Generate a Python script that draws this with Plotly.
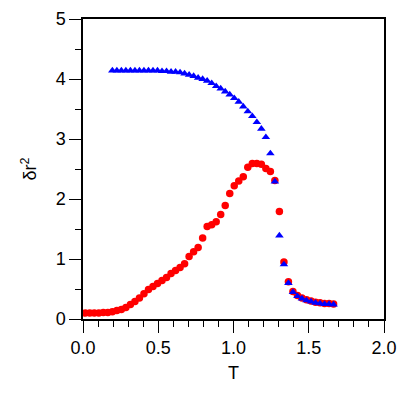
import plotly.graph_objects as go

# Temperature grid (shared by both series)
T = [0.015, 0.045, 0.075, 0.105, 0.135, 0.165, 0.195, 0.225, 0.255, 0.285,
     0.315, 0.345, 0.375, 0.405, 0.435, 0.465, 0.495, 0.525, 0.555, 0.585,
     0.615, 0.645, 0.675, 0.705, 0.735, 0.765, 0.795, 0.825, 0.855, 0.885,
     0.915, 0.945, 0.975, 1.005, 1.035, 1.065, 1.095, 1.125, 1.155, 1.185,
     1.215, 1.245, 1.275, 1.305, 1.335, 1.365, 1.395, 1.425, 1.455, 1.485,
     1.515, 1.545, 1.575, 1.605, 1.635, 1.665]

# Red circles
red_vals = [0.10, 0.10, 0.10, 0.10, 0.11, 0.11, 0.12, 0.14, 0.16, 0.19,
            0.24, 0.29, 0.35, 0.42, 0.49, 0.54, 0.59, 0.64, 0.69, 0.76,
            0.81, 0.86, 0.92, 1.04, 1.12, 1.19, 1.35, 1.54, 1.57, 1.62,
            1.74, 1.89, 2.09, 2.22, 2.30, 2.37, 2.53, 2.59, 2.59, 2.58,
            2.51, 2.46, 2.31, 1.79, 0.95, 0.62, 0.46, 0.39, 0.35, 0.32,
            0.30, 0.28, 0.27, 0.26, 0.26, 0.25]

# Blue triangles (start at the 7th temperature)
T_blue = T[6:]
blue_vals = [4.14, 4.14, 4.14, 4.14, 4.14, 4.14, 4.14, 4.14, 4.14, 4.14,
             4.14, 4.13, 4.13, 4.12, 4.12, 4.11, 4.09, 4.07, 4.05, 4.02,
             4.00, 3.97, 3.93, 3.88, 3.84, 3.79, 3.74, 3.68, 3.62, 3.54,
             3.46, 3.38, 3.28, 3.17, 3.03, 2.76, 2.29, 1.39, 0.91, 0.60,
             0.45, 0.38, 0.34, 0.31, 0.29, 0.27, 0.26, 0.25, 0.25, 0.24]

x_ticks = [0.0, 0.5, 1.0, 1.5, 2.0]
x_ticklabels = ["0.0", "0.5", "1.0", "1.5", "2.0"]
y_ticks = [0, 1, 2, 3, 4, 5]

fig = go.Figure()
fig.add_trace(go.Scatter(x=T, y=red_vals, mode="markers",
                         marker=dict(symbol="circle", size=7.5, color="#ff0000",
                                     line=dict(width=0)),
                         showlegend=False))
fig.add_trace(go.Scatter(x=T_blue, y=blue_vals, mode="markers",
                         marker=dict(symbol="triangle-up", size=7.5, color="#0000ff",
                                     line=dict(width=0)),
                         showlegend=False))

font = dict(family="Liberation Sans, Arial, sans-serif", size=18, color="black")

# page body has an 8px default margin, so the figure is sized/offset to fit the window
fig.update_layout(
    width=401, height=385,
    margin=dict(l=75, r=25, t=11, b=74),
    paper_bgcolor="white", plot_bgcolor="white",
    font=font,
    xaxis=dict(range=[0, 2], tickvals=x_ticks, ticktext=x_ticklabels,
               tickfont=font, automargin=False,
               ticks="outside", ticklen=12, tickwidth=1.3, tickcolor="black",
               showline=True, linecolor="black", linewidth=1.5, mirror=True,
               showgrid=False, zeroline=False,
               minor=dict(dtick=0.1, ticks="outside", ticklen=6,
                          tickwidth=1.3, tickcolor="black", showgrid=False),
               title=dict(text="T", font=font, standoff=9)),
    yaxis=dict(range=[0, 5], tickvals=y_ticks,
               tickfont=font, automargin=False,
               ticks="outside", ticklen=12, tickwidth=1.3, tickcolor="black",
               showline=True, linecolor="black", linewidth=1.5, mirror=True,
               showgrid=False, zeroline=False,
               minor=dict(dtick=0.5, ticks="outside", ticklen=6,
                          tickwidth=1.3, tickcolor="black", showgrid=False),
               title=dict(text="δr<sup>2</sup>", font=font, standoff=14)),
)

fig.write_html("out.html")
